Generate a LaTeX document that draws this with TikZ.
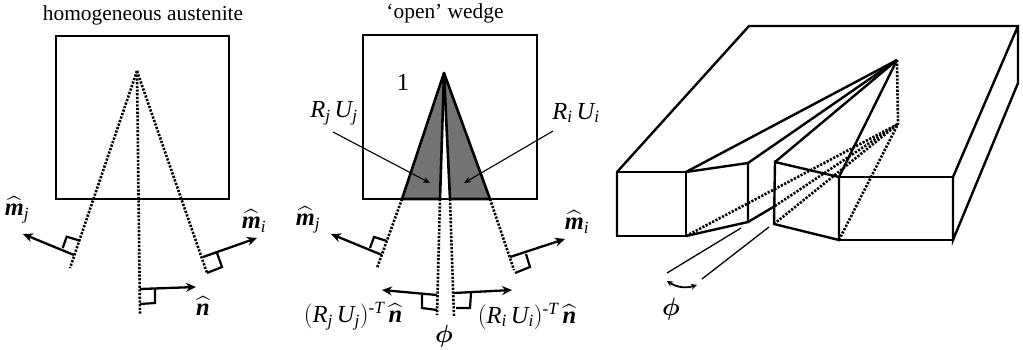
\documentclass[tikz,border=0pt]{standalone}
\usepackage{fontspec}
\setmainfont{Liberation Serif}
\usepackage{amsmath}
\usetikzlibrary{arrows.meta}
\newcommand{\hatm}[1]{$\widehat{\text{\bfseries\itshape m}}_{\mathit{#1}}$}
\newcommand{\hatn}{\widehat{\text{\bfseries\itshape n}}}
\newcommand{\RU}[1]{\mathit{R}_{\mathit{#1}}\,\mathit{U}_{\mathit{#1}}}

\begin{document}
\begin{tikzpicture}[
    x=1pt, y=-1pt,
    outline/.style={draw=black, line width=2.4pt, line join=miter},
    dots/.style={draw=black, line width=2.6pt, dash pattern=on 2.2pt off 1.5pt},
    vec/.style={-{Stealth[length=10pt,width=9pt]}, line width=2.3pt},
    mark90/.style={line width=2.2pt},
    thin arr/.style={-{Stealth[length=7pt,width=6pt,open]}, line width=1.1pt},
    thin lin/.style={line width=1.3pt},
    wedge/.style={fill=black!55, draw=black, line width=2.6pt, line join=round},
    lab/.style={font=\fontsize{24.5}{27}\selectfont, inner sep=0pt},
    title/.style={font=\fontsize{21.4}{24}\selectfont, inner sep=0pt}
]
\useasboundingbox (0,0) rectangle (1023,349);

% Homogeneous austenite
\node[title] (htitle) at (143,15) {homogeneous austenite};
\node[outline, minimum width=173pt, minimum height=163pt, inner sep=0pt] (hsq) at (142.5,117.5) {};
\coordinate (hapex) at (137,71);
\coordinate (hleft) at (70,268);
\coordinate (hmid) at (140,315);
\coordinate (hright) at (207,273);
\draw[dots] (hapex) -- (hleft);
\draw[dots] (hapex) -- (hmid);
\draw[dots] (hapex) -- (hright);

\coordinate (hmj) at (74,255);
\coordinate (hmi) at (203,257);
\coordinate (hn) at (140,289);
\node[lab] (hmjl) at (17,210) {\hatm{j}};
\node[lab] (hmil) at (254,221) {\hatm{i}};
\node[lab] (hnl) at (203,306) {$\hatn$};
\coordinate (hmjt) at (23,234);
\coordinate (hmit) at (257,238);
\coordinate (hnt) at (196,287);
\draw[vec] (hmj) -- (hmjt);
\draw[vec] (hmi) -- (hmit);
\draw[vec] (hn) -- (hnt);
\draw[mark90] (62.7,248) -- (66.7,236.7) -- (80,240.7);
\draw[mark90] (217,253) -- (222,267) -- (207,273);
\draw[mark90] (155,289) -- (155,303) -- (140,304);

% Open wedge
\node[title] (otitle) at (445,13) {`open' wedge};
\node[outline, minimum width=174pt, minimum height=164pt, inner sep=0pt] (osq) at (450,117) {};
\coordinate (oapex) at (444,73);
\coordinate (ol) at (402,199);
\coordinate (olm) at (440,199);
\coordinate (orm) at (450,199);
\coordinate (or) at (490,199);
\draw[wedge] (oapex) -- (ol) -- (olm) -- cycle;
\draw[wedge] (oapex) -- (or) -- (orm) -- cycle;
\coordinate (odl) at (377,268);
\coordinate (odlm) at (437,315);
\coordinate (odrm) at (454,317);
\coordinate (odr) at (514,270);
\draw[dots] (ol) -- (odl);
\draw[dots] (olm) -- (odlm);
\draw[dots] (orm) -- (odrm);
\draw[dots] (or) -- (odr);

\node[lab] (onum) at (403,82) {1};
\node[lab] (ojl) at (334,113) {$\RU{j}$};
\node[lab] (oil) at (576,113) {$\RU{i}$};
\coordinate (ojs) at (333,132);
\coordinate (oje) at (430,183);
\coordinate (ois) at (553,131);
\coordinate (oie) at (464,183);
\draw[thin arr] (ojs) -- (oje);
\draw[thin arr] (ois) -- (oie);

\coordinate (omj) at (382,255);
\coordinate (omi) at (510,257);
\coordinate (onl) at (437,295);
\coordinate (onr) at (454,293);
\coordinate (omjt) at (331,234);
\coordinate (omit) at (565,239);
\coordinate (onlt) at (382,290);
\coordinate (onrt) at (512,290);
\draw[vec] (omj) -- (omjt);
\draw[vec] (omi) -- (omit);
\draw[vec] (onl) -- (onlt);
\draw[vec] (onr) -- (onrt);
\draw[mark90] (370,248) -- (374,237) -- (387,241);
\draw[mark90] (526,254) -- (530,267) -- (515,273);
\draw[mark90] (422,295) -- (422,308) -- (437,310);
\draw[mark90] (471,293) -- (470,308) -- (456,308);
\node[lab] (omjl) at (308,220) {\hatm{j}};
\node[lab] (omil) at (577,222) {\hatm{i}};
\node[lab] (onll) at (353,316) {$(\RU{j})^{\text{-}\mathit{T}}\,\hatn$};
\node[lab] (onrl) at (527,316) {$(\RU{i})^{\text{-}\mathit{T}}\,\hatn$};
\node[lab] (ophi) at (444,336) {$\boldsymbol{\phi}$};

% Block
\coordinate (bftl) at (617,172);
\coordinate (bfbl) at (617,236);
\coordinate (bgtl) at (686,172);
\coordinate (bgbl) at (686,236);
\coordinate (bstl) at (748,163);
\coordinate (bsbl) at (748,222);
\coordinate (bstr) at (775,162);
\coordinate (bsbr) at (774,224);
\coordinate (bgtr) at (839,177);
\coordinate (bgbr) at (839,240);
\coordinate (bftr) at (953,177);
\coordinate (bfbr) at (953,240);
\coordinate (bbl) at (749,26);
\coordinate (bbr) at (1018,26);
\coordinate (bbrb) at (1018,83);
\coordinate (bapex) at (897,60);
\coordinate (blow) at (898,124);
\coordinate (bgap) at (775,206);

\draw[outline] (bfbl) -- (bftl) -- (bbl) -- (bbr) -- (bbrb) -- (bfbr) -- (bftr) -- (bbr);
\draw[outline] (bftl) -- (bgtl) -- (bgbl) -- (bfbl) -- cycle;
\draw[outline] (bgtl) -- (bstl) -- (bsbl) -- (bgbl);
\draw[outline] (bstr) -- (bgtr) -- (bgbr) -- (bsbr) -- cycle;
\draw[outline] (bgtr) -- (bftr) -- (bfbr) -- (bgbr);
\foreach \corner in {bgtl, bstl, bstr, bgtr}
    \draw[outline, line join=round] (\corner) -- (bapex);
\draw[outline] (bsbl) -- (bgap);

\draw[dots] (bapex) -- (blow);
\foreach \corner in {bgbl, bgap, bsbr, bgbr}
    \draw[dots] (\corner) -- (blow);

% Phi gap
\coordinate (gl1) at (667,273);
\coordinate (gl2) at (741,228);
\coordinate (gr1) at (702,279);
\coordinate (gr2) at (769,227);
\coordinate (gal) at (667,281);
\coordinate (gar) at (697,285);
\draw[thin lin] (gl1) -- (gl2);
\draw[thin lin] (gr1) -- (gr2);
\draw[{Stealth[length=6pt,width=6pt]}-{Stealth[length=6pt,width=6pt]}, line width=1.8pt] (gal) to[bend right=25] (gar);
\node[lab] (gphi) at (671,309) {$\boldsymbol{\phi}$};
\end{tikzpicture}
\end{document}
